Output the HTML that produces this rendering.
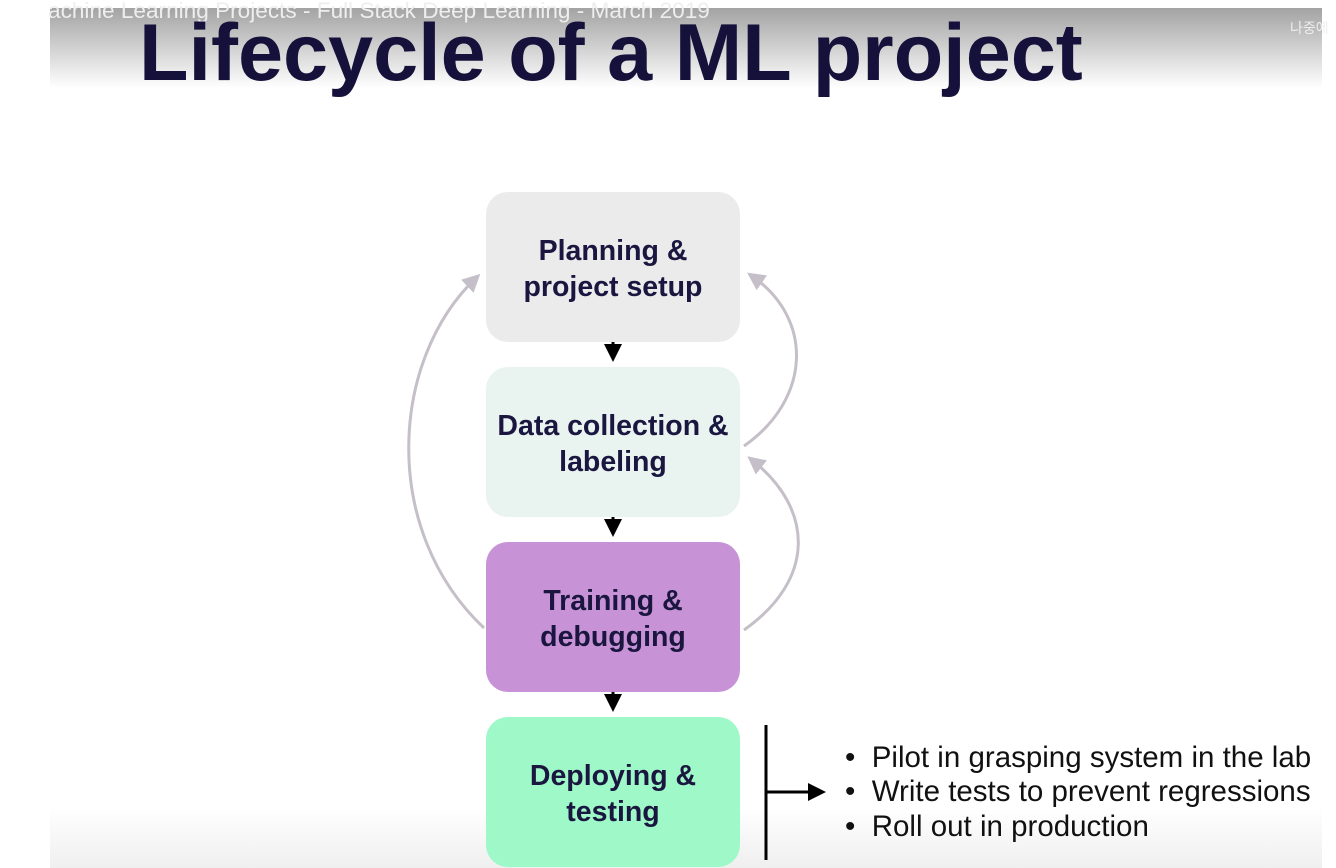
<!DOCTYPE html>
<html><head><meta charset="utf-8"><style>
body{margin:0;width:1336px;height:868px;background:#fff;position:relative;overflow:hidden;font-family:"Liberation Sans",Arial,sans-serif}
.slide{position:absolute;left:50px;top:8px;width:1272px;height:860px;background:linear-gradient(#fff 0,#fff 800px,#efefef 860px)}
.topg{position:absolute;left:50px;top:8px;width:1272px;height:80px;background:linear-gradient(#a3a3a3,rgba(255,255,255,0))}
.yt{position:absolute;left:48px;top:-2px;color:#eee;font-size:22.6px;white-space:nowrap;line-height:26px}
.ko{position:absolute;left:1290px;top:18px;color:#eee;font-size:14px;font-family:"Liberation Sans","Noto Sans CJK KR",sans-serif}
h1{position:absolute;left:139px;top:7px;margin:0;font-size:81px;font-weight:bold;color:#15113a;white-space:nowrap}
.box{position:absolute;left:486px;width:254px;height:150px;border-radius:22px;display:flex;align-items:center;justify-content:center;text-align:center;font-weight:bold;font-size:28.5px;line-height:36px;color:#1a1640;padding-top:3px;box-sizing:border-box}
.bl{position:absolute;left:845px;font-size:29.5px;color:#111;white-space:nowrap}
</style></head><body>
<div class="slide"></div><div class="topg"></div>
<div class="yt">achine Learning Projects - Full Stack Deep Learning - March 2019</div>
<div class="ko">나중에</div>
<h1>Lifecycle of a ML project</h1>
<div class="box" style="top:192px;background:#ebebeb">Planning &amp;<br>project setup</div>
<div class="box" style="top:367px;background:#e9f3f0">Data collection &amp;<br>labeling</div>
<div class="box" style="top:542px;background:#c893d6">Training &amp;<br>debugging</div>
<div class="box" style="top:717px;background:#9ef8c8">Deploying &amp;<br>testing</div>
<svg width="1336" height="868" style="position:absolute;left:0;top:0">
<defs>
<marker id="b" markerWidth="6" markerHeight="6" refX="4" refY="3" orient="auto"><path d="M0,0L6,3L0,6z" fill="#000"/></marker>
<marker id="g" markerWidth="6" markerHeight="6" refX="4" refY="3" orient="auto"><path d="M0,0L6,3L0,6z" fill="#c4bfc8"/></marker>
</defs>
<g stroke="#000" stroke-width="3">
<line x1="613" y1="342" x2="613" y2="356" marker-end="url(#b)"/>
<line x1="613" y1="517" x2="613" y2="531" marker-end="url(#b)"/>
<line x1="613" y1="692" x2="613" y2="706" marker-end="url(#b)"/>
<line x1="766" y1="725" x2="766" y2="860"/>
<line x1="766" y1="792" x2="820" y2="792" marker-end="url(#b)"/>
</g>
<g stroke="#c4bfc8" stroke-width="3" fill="none">
<path d="M484,628 C380,530 390,360 476,278" marker-end="url(#g)"/>
<path d="M744,446 C810,400 815,320 752,276" marker-end="url(#g)"/>
<path d="M744,630 C815,580 815,510 752,460" marker-end="url(#g)"/>
</g>
</svg>
<div class="bl" style="top:741px">•&nbsp; Pilot in grasping system in the lab</div>
<div class="bl" style="top:775px">•&nbsp; Write tests to prevent regressions</div>
<div class="bl" style="top:810px">•&nbsp; Roll out in production</div>
</body></html>
